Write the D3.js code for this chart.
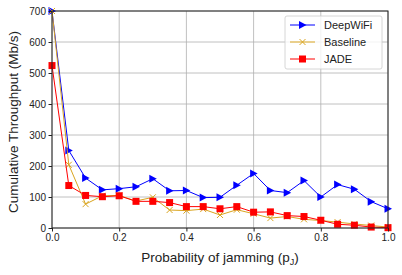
<!DOCTYPE html>
<html>
<head>
<meta charset="utf-8">
<script src="https://cdn.jsdelivr.net/npm/d3@7"></script>
<style>
body { margin: 0; background: #fff; }
svg { font-family: "Liberation Sans", Arial, sans-serif; }
</style>
</head>
<body>
<svg id="chart" width="402" height="275"></svg>
<script>
// jamming probabilities
var pj = [0, 0.05, 0.1, 0.15, 0.2, 0.25, 0.3, 0.35, 0.4, 0.45, 0.5,
          0.55, 0.6, 0.65, 0.7, 0.75, 0.8, 0.85, 0.9, 0.95, 1.0]
var deepwifi = [700, 250, 161, 123, 127, 133, 159, 120, 121, 98, 99,
                138, 176, 121, 114, 153, 100, 140, 125, 85, 62]
var baseline = [700, 204, 77, 104, 105, 87, 99, 58, 56, 61, 42,
                59, 46, 32, 37, 28, 24, 19, 13, 8, 3]
var jade = [524, 137, 105, 101, 104, 86, 86, 82, 69, 69, 62,
            69, 51, 52, 40, 37, 25, 12, 9, 3, 1]
var xTicks = [0, 0.2, 0.4, 0.6, 0.8, 1.0]
var yTicks = [0, 100, 200, 300, 400, 500, 600, 700]

var margin = {top: 11, right: 14, bottom: 47, left: 52}
var width = 402 - margin.left - margin.right
var height = 275 - margin.top - margin.bottom

var svg = d3.select('#chart')
var g = svg.append('g').attr('transform', 'translate(' + margin.left + ',' + margin.top + ')')

var x = d3.scaleLinear().domain([0, 1]).range([0, width])
var y = d3.scaleLinear().domain([0, 700]).range([height, 0])

// grid
g.append('g').selectAll('line').data(xTicks).enter().append('line')
  .attr('x1', d => x(d)).attr('x2', d => x(d)).attr('y1', 0).attr('y2', height)
  .attr('stroke', '#b0b0b0').attr('stroke-width', 0.8)
g.append('g').selectAll('line').data(yTicks).enter().append('line')
  .attr('y1', d => y(d)).attr('y2', d => y(d)).attr('x1', 0).attr('x2', width)
  .attr('stroke', '#b0b0b0').attr('stroke-width', 0.8)

var series = [
  {name: 'DeepWiFi', values: deepwifi, color: '#0000ff', marker: 'tri'},
  {name: 'Baseline', values: baseline, color: '#daa520', marker: 'x'},
  {name: 'JADE', values: jade, color: '#ff0000', marker: 'sq'}
]

var line = d3.line().x(d => x(d[0])).y(d => y(d[1]))

function drawMarker(sel, type, color) {
  if (type === 'tri') {
    sel.append('path').attr('d', 'M-3.5,-4 L4,0 L-3.5,4 Z').attr('fill', color)
  } else if (type === 'sq') {
    sel.append('rect').attr('x', -3.5).attr('y', -3.5).attr('width', 7).attr('height', 7).attr('fill', color)
  } else {
    sel.append('path').attr('d', 'M-3,-3 L3,3 M-3,3 L3,-3').attr('stroke', color).attr('stroke-width', 1)
  }
}

series.forEach(function(s) {
  var pts = pj.map((p, i) => [p, s.values[i]])
  var sg = g.append('g')
  sg.append('path').datum(pts).attr('d', line)
    .attr('fill', 'none').attr('stroke', s.color).attr('stroke-width', 1)
  sg.selectAll('g.m').data(pts).enter().append('g')
    .attr('transform', d => 'translate(' + x(d[0]) + ',' + y(d[1]) + ')')
    .each(function() { drawMarker(d3.select(this), s.marker, s.color) })
})

// frame
g.append('rect').attr('width', width).attr('height', height)
  .attr('fill', 'none').attr('stroke', '#222').attr('stroke-width', 1)

var xa = g.append('g').attr('transform', 'translate(0,' + height + ')')
  .call(d3.axisBottom(x).tickValues(xTicks).tickFormat(d3.format('.1f')).tickSize(3.5).tickPadding(2))
var ya = g.append('g')
  .call(d3.axisLeft(y).tickValues(yTicks).tickSize(3.5).tickPadding(2.5))
;[xa, ya].forEach(function(a) {
  a.select('.domain').remove()
  a.selectAll('text').attr('font-size', 10).attr('fill', '#222').attr('font-family', '"Liberation Sans", Arial, sans-serif')
  a.selectAll('line').attr('stroke', '#222')
})

// axis titles
svg.append('text')
  .attr('x', margin.left + width / 2).attr('y', 262)
  .attr('text-anchor', 'middle').attr('font-size', 13.5).attr('fill', '#222')
  .html('Probability of jamming (p<tspan font-size="9" dy="3">J</tspan><tspan dy="-3">)</tspan>')

svg.append('text')
  .attr('transform', 'translate(17.5,122) rotate(-90)')
  .attr('text-anchor', 'middle').attr('font-size', 13.5).attr('fill', '#222')
  .text('Cumulative Throughput (Mb/s)')

// legend
var leg = g.append('g').attr('transform', 'translate(' + (width - 103) + ',5)')
leg.append('rect').attr('width', 97).attr('height', 53).attr('rx', 2)
  .attr('fill', '#fff').attr('fill-opacity', 0.8).attr('stroke', '#ccc').attr('stroke-width', 0.8)
series.forEach(function(s, i) {
  var row = leg.append('g').attr('transform', 'translate(5,' + (9 + i * 17) + ')')
  row.append('line').attr('x1', 0).attr('x2', 25).attr('stroke', s.color).attr('stroke-width', 1)
  drawMarker(row.append('g').attr('transform', 'translate(12.5,0)'), s.marker, s.color)
  row.append('text').attr('x', 34).attr('y', 4).attr('font-size', 11).attr('fill', '#222').text(s.name)
})
</script>
</body>
</html>
